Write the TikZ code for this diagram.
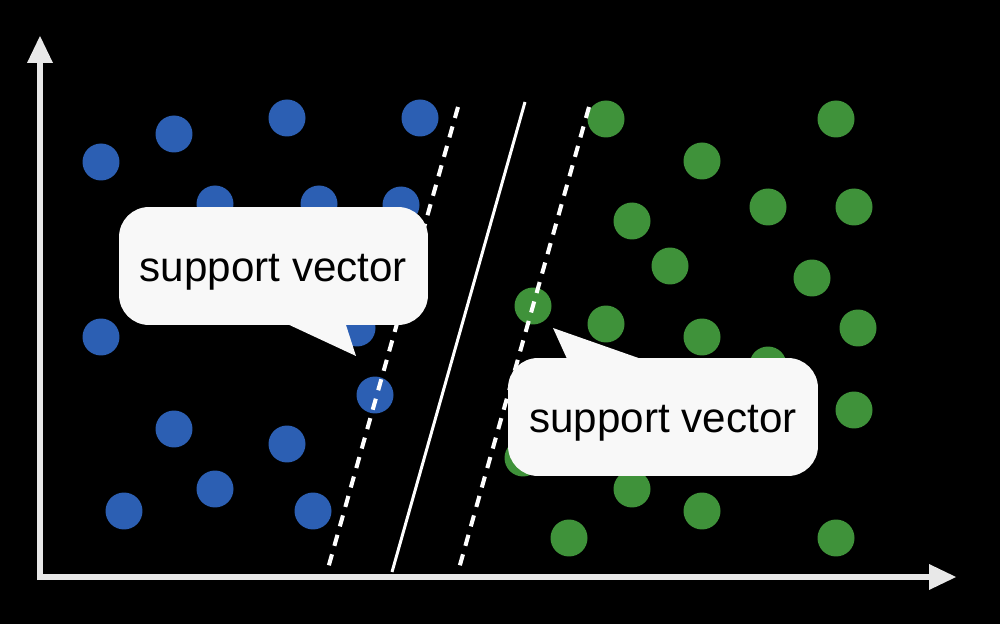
\documentclass[tikz,border=0pt]{standalone}
\usepackage{fontspec}
\setmainfont{Liberation Sans}
\definecolor{bdot}{HTML}{2C5FB3}
\definecolor{gdot}{HTML}{3F923A}
\definecolor{axisc}{HTML}{E8E8E8}
\definecolor{bubblec}{HTML}{F8F8F8}
\begin{document}
\begin{tikzpicture}[x=0.02cm,y=-0.02cm,
  bluedot/.style={circle,fill=bdot,minimum size=0.74cm,inner sep=0pt},
  greendot/.style={circle,fill=gdot,minimum size=0.74cm,inner sep=0pt},
  axisline/.style={draw=axisc,line width=0.12cm},
  axhead/.style={fill=axisc},
  marginline/.style={draw=white,line width=2.3pt,dash pattern=on 6.5pt off 5pt},
  hyperline/.style={draw=white,line width=1.7pt},
  bubble/.style={fill=bubblec,rounded corners=0.6cm,minimum width=6.18cm,minimum height=2.36cm,inner sep=0pt,text height=22.6pt,text depth=5pt,font=\fontsize{24}{28}\selectfont},
  pointer/.style={fill=bubblec}
]
\fill[black] (0,0) rectangle (1000,624);
\useasboundingbox (0,0) rectangle (1000,624);

% blue points
\foreach \x/\y [count=\i] in {101/162,174/134,287/118,420/118,215/204,319/204,401/205,101/337,357/328,375/395,174/429,287/444,215/489,124/511,313/511}
  \node[bluedot] (b\i) at (\x,\y) {};
% green points
\foreach \x/\y [count=\i] in {606/119,836/119,702/161,768/207,854/207,632/221,670/266,812/278,533/306,606/324,702/337,858/328,768/365,854/410,523/458,632/489,702/511,569/538,836/538}
  \node[greendot] (g\i) at (\x,\y) {};

% separating lines
\coordinate (h1) at (525,102);
\coordinate (h2) at (392,572);
\coordinate (l1) at (458,107);
\coordinate (l2) at (327,572);
\coordinate (r1) at (589,107);
\coordinate (r2) at (458,572);
\draw[marginline] (l1) -- (l2);
\draw[marginline] (r1) -- (r2);
\draw[hyperline] (h1) -- (h2);

% axes
\coordinate (o) at (40,577);
\coordinate (ytop) at (40,62);
\coordinate (xend) at (930,577);
\draw[axisline] (40,580) -- (ytop);
\draw[axisline] (37,577) -- (xend);
\fill[axhead] (27,63) -- (40,36) -- (53,63) -- cycle;
\fill[axhead] (929,564) -- (956,577) -- (929,590) -- cycle;

% bubbles
\node[bubble] (s1) at (273.5,266) {support vector};
\coordinate (t1) at (356,356);
\fill[pointer] (283,322) -- (t1) -- (345,322) -- cycle;

\node[bubble,minimum width=6.2cm] (s2) at (663,417) {support vector};
\coordinate (t2) at (553,328);
\fill[pointer] (568,361) -- (t2) -- (647,361) -- cycle;
\end{tikzpicture}
\end{document}
